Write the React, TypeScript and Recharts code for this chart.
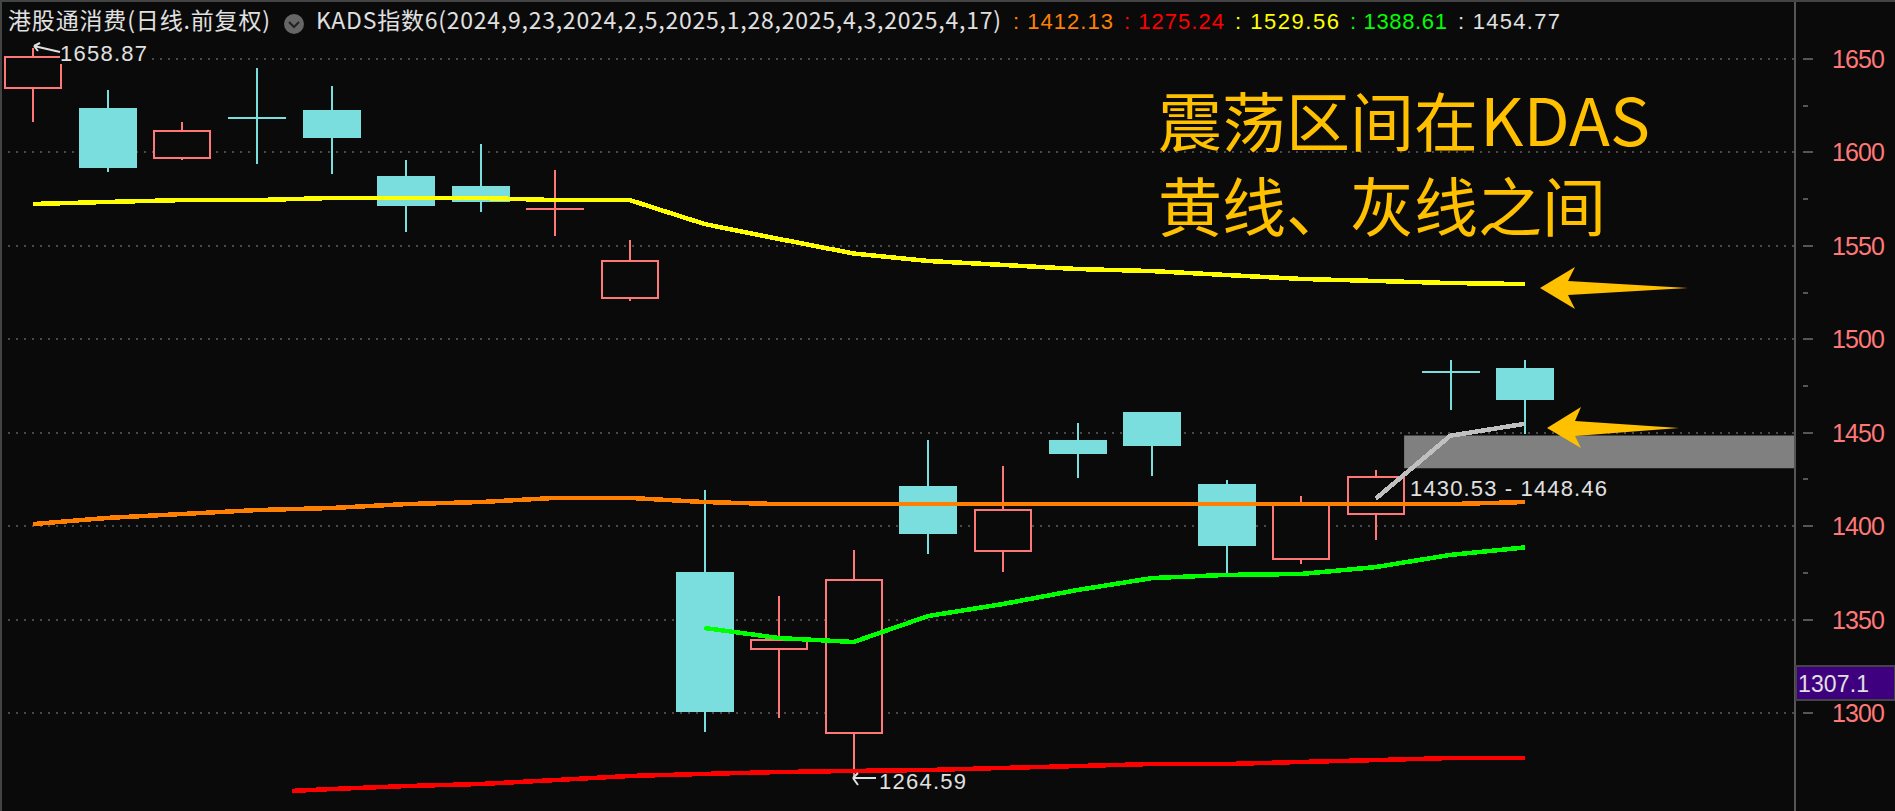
import React from "react";
import {
  ComposedChart,
  Bar,
  Line,
  XAxis,
  YAxis,
  CartesianGrid,
  ReferenceArea,
} from "recharts";

const WIDTH = 1895;
const HEIGHT = 811;
const BODY_WIDTH = 58;
const LINE_WIDTH = 4.5;

// daily candles
const highs = [1656, 1633.4, 1616.3, 1645.2, 1635.5, 1596, 1604.5, 1590.6, 1553.1, 1419.3, 1362.6, 1387.2, 1446.1, 1432.2, 1455.2, 1461, 1424.7, 1416.1, 1430, 1488.9, 1488.9];
const opens = [1634.6, 1623.8, 1597.2, 1618.2, 1622.7, 1587.4, 1582, 1569.6, 1522.3, 1375.5, 1333.9, 1288.9, 1421.5, 1386.3, 1446.1, 1461, 1422.6, 1382.3, 1406.9, 1482.3, 1484.6];
const closes = [1651.2, 1591.7, 1611.6, 1618, 1607.7, 1571.3, 1573.5, 1569.7, 1542, 1300.5, 1338.9, 1371, 1395.8, 1408.5, 1438.6, 1442.9, 1389.4, 1412.4, 1426.5, 1482.1, 1467.5];
const lows = [1616.4, 1589.5, 1596, 1593.8, 1588.7, 1557.4, 1568.1, 1555.3, 1520.5, 1289.8, 1297.3, 1264.7, 1385, 1375.5, 1425.8, 1426.8, 1374.4, 1379.7, 1392.6, 1462.2, 1449.3];

// KDAS lines
const yellowLine = [1572.4, 1573.5, 1574.5, 1574.5, 1575.6, 1575.6, 1575.6, 1574.5, 1574.5, 1561.7, 1553.7, 1545.9, 1541.9, 1539.8, 1537.6, 1536.5, 1534.4, 1532.3, 1531.2, 1530.1, 1529.56];
const orangeLine = [1401.1, 1404.4, 1406.5, 1408.6, 1409.7, 1411.8, 1412.9, 1415.1, 1415.1, 1412.9, 1411.8, 1411.8, 1411.8, 1411.8, 1411.8, 1411.8, 1411.8, 1411.8, 1411.8, 1411.8, 1412.9];
const greenLine = [1345.5, 1340.1, 1338, 1351.9, 1358.3, 1365.8, 1372.2, 1373.9, 1374.4, 1378.1, 1384.6, 1388.61];
const greenDays = [9, 10, 11, 12, 13, 14, 15, 16, 17, 18, 19, 20];
const redLine = [1258.3, 1259.3, 1260.9, 1262, 1264.1, 1266.3, 1267.4, 1268.4, 1269, 1269.5, 1270.6, 1271.6, 1272.7, 1272.7, 1273.8, 1274.8, 1275.9, 1275.9];
const redDays = [3.47, 4, 5, 6, 7, 8, 9, 10, 11, 12, 13, 14, 15, 16, 17, 18, 19, 20];
const greyLine = [1414.7, 1448.4, 1454.77];
const greyDays = [18, 19, 20];

const gridValues = [1300, 1350, 1400, 1450, 1500, 1550, 1600, 1650];
const axisTicks = [1300, 1325, 1350, 1375, 1400, 1425, 1450, 1475, 1500, 1525, 1550, 1575, 1600, 1625, 1650];

const candles = highs.map((high, i) => ({
  x: i,
  range: [lows[i], high],
  high,
  low: lows[i],
  open: opens[i],
  close: closes[i],
}));

const toRows = (days: number[], values: number[]) =>
  days.map((x, i) => ({ x, y: values[i] }));
const allDays = highs.map((_, i) => i);

const BG = "#0a0a0a";
const UP = "#ff7878";
const DOWN = "#7adede";
const GOLD = "#ffc000";
const PALE = "#e0e0e0";

function Candle(props: any) {
  const { x, y, width, height, payload } = props;
  if (height == null) return null;
  const unit = height / (payload.high - payload.low);
  const top = y + (payload.high - Math.max(payload.open, payload.close)) * unit;
  const bottom = y + (payload.high - Math.min(payload.open, payload.close)) * unit;
  const up = payload.close >= payload.open;
  const color = up ? UP : DOWN;
  const mid = Math.round(x + width / 2);
  const left = mid - BODY_WIDTH / 2;
  return (
    <g shapeRendering="crispEdges">
      <rect x={mid - 1} y={y} width={2} height={height} fill={color} />
      {bottom - top < 3 ? (
        <rect x={left} y={Math.round(top) - 1} width={BODY_WIDTH} height={2} fill={color} />
      ) : up ? (
        <rect
          x={left + 1}
          y={Math.round(top)}
          width={BODY_WIDTH - 2}
          height={Math.round(bottom - top)}
          fill={BG}
          stroke={color}
          strokeWidth={2}
        />
      ) : (
        <rect x={left} y={Math.round(top)} width={BODY_WIDTH} height={Math.round(bottom - top)} fill={color} />
      )}
    </g>
  );
}

function PriceTick(props: any) {
  const { x, y, payload } = props;
  const major = payload.value % 50 === 0;
  return (
    <g shapeRendering="crispEdges">
      <rect x={x} y={y - 1} width={major ? 10 : 5} height={2} fill="#555" />
      {major && (
        <text
          x={1832}
          y={y + 9}
          fill={UP}
          fontSize={25}
          fontFamily="Liberation Sans"
          textLength={53}
          lengthAdjust="spacing"
          shapeRendering="auto"
        >
          {payload.value}
        </text>
      )}
    </g>
  );
}

function HeaderText({ x, w, fill, children }: any) {
  return (
    <text x={x} y={29} fill={fill} fontSize={22} fontFamily="Liberation Sans" textLength={w} lengthAdjust="spacing">
      {children}
    </text>
  );
}

function Overlay() {
  return (
    <svg width={WIDTH} height={HEIGHT} style={{ position: "absolute", left: 0, top: 0 }}>
      <text x={8} y={29} fill={PALE} fontSize={23} fontFamily="Noto Sans CJK SC" textLength={262} lengthAdjust="spacing">
        港股通消费(日线.前复权)
      </text>
      <circle cx={294} cy={24} r={10} fill="#666" />
      <path d="M289 22 L294 27 L299 22" fill="none" stroke="#222" strokeWidth={2} />
      <text x={316} y={29} fill={PALE} fontSize={23} fontFamily="Noto Sans CJK SC" textLength={685} lengthAdjust="spacing">
        KADS指数6(2024,9,23,2024,2,5,2025,1,28,2025,4,3,2025,4,17)
      </text>
      <HeaderText x={1013} w={100} fill="#ff8000">: 1412.13</HeaderText>
      <HeaderText x={1124} w={100} fill="#ff0000">: 1275.24</HeaderText>
      <HeaderText x={1235} w={104} fill="#ffff00">: 1529.56</HeaderText>
      <HeaderText x={1350} w={97} fill="#00ff00">: 1388.61</HeaderText>
      <HeaderText x={1458} w={102} fill={PALE}>: 1454.77</HeaderText>

      <rect x={60} y={44} width={90} height={20} fill={BG} />
      <path d="M34 46 L60 52 M34 46 L40 43 M34 46 L38 51" fill="none" stroke={PALE} strokeWidth={2} />
      <text x={60} y={61} fill={PALE} fontSize={22} fontFamily="Liberation Sans" textLength={87} lengthAdjust="spacing">
        1658.87
      </text>

      <path d="M853 778 H876 M853 778 L858 773 M853 778 L858 785" fill="none" stroke={PALE} strokeWidth={2} />
      <text x={879} y={789} fill={PALE} fontSize={22} fontFamily="Liberation Sans" textLength={87} lengthAdjust="spacing">
        1264.59
      </text>

      <text x={1410} y={496} fill={PALE} fontSize={22} fontFamily="Liberation Sans" textLength={197} lengthAdjust="spacing">
        1430.53 - 1448.46
      </text>

      <text x={1158} y={146} fill={GOLD} fontSize={64} fontFamily="Noto Sans CJK SC">
        震荡区间在
      </text>
      <text x={1480} y={146} fill={GOLD} fontSize={66} fontFamily="Noto Sans CJK SC" textLength={170} lengthAdjust="spacingAndGlyphs">
        KDAS
      </text>
      <text x={1158} y={231} fill={GOLD} fontSize={64} fontFamily="Noto Sans CJK SC">
        黄线、灰线之间
      </text>

      <polygon points="1540,288 1575,267 1568,281 1688,288 1568,295 1575,309" fill={GOLD} />
      <polygon points="1547,428 1581,407 1575,421 1679,428 1575,436 1581,448" fill={GOLD} />

      <rect x={1796} y={666} width={99} height={34} fill="#3f007f" stroke="#444" strokeWidth={2} />
      <text x={1798} y={692} fill={PALE} fontSize={23} fontFamily="Liberation Sans" textLength={71} lengthAdjust="spacing">
        1307.1
      </text>
    </svg>
  );
}

function App() {
  return (
    <div style={{ position: "absolute", left: 0, top: 0, width: WIDTH, height: HEIGHT, background: BG, overflow: "hidden" }}>
      <style>{`.recharts-line-curve { shape-rendering: crispEdges; }`}</style>
      <ComposedChart width={WIDTH} height={HEIGHT} data={candles} margin={{ top: 0, right: 0, bottom: 0, left: 0 }}>
        <CartesianGrid
          horizontal
          vertical={false}
          horizontalValues={gridValues}
          stroke="#4a4a4a"
          strokeWidth={2}
          strokeDasharray="2 6"
          shapeRendering="crispEdges"
        />
        <XAxis type="number" dataKey="x" domain={[-0.4424, 23.62]} allowDataOverflow hide />
        <YAxis
          orientation="right"
          width={100}
          type="number"
          domain={[1247.55, 1681.57]}
          allowDataOverflow
          ticks={axisTicks}
          interval={0}
          tick={<PriceTick />}
          tickLine={false}
          axisLine={{ stroke: "#555", strokeWidth: 2 }}
        />
        <ReferenceArea x1={18.38} x2={23.62} y1={1431} y2={1448.46} fill="#808080" fillOpacity={1} stroke="none" />
        <Bar dataKey="range" barSize={58} shape={<Candle />} isAnimationActive={false} />
        <Line data={toRows(allDays, yellowLine)} dataKey="y" stroke="#ffff00" strokeWidth={LINE_WIDTH} dot={false} isAnimationActive={false} />
        <Line data={toRows(allDays, orangeLine)} dataKey="y" stroke="#ff8000" strokeWidth={LINE_WIDTH} dot={false} isAnimationActive={false} />
        <Line data={toRows(greenDays, greenLine)} dataKey="y" stroke="#00ff00" strokeWidth={LINE_WIDTH} dot={false} isAnimationActive={false} />
        <Line data={toRows(redDays, redLine)} dataKey="y" stroke="#ff0000" strokeWidth={LINE_WIDTH} dot={false} isAnimationActive={false} />
        <Line data={toRows(greyDays, greyLine)} dataKey="y" stroke="#c0c0c0" strokeWidth={LINE_WIDTH} dot={false} isAnimationActive={false} />
      </ComposedChart>
      <Overlay />
      <div style={{ position: "absolute", left: 0, top: 0, width: WIDTH, height: 2, background: "#444" }} />
      <div style={{ position: "absolute", left: 0, top: 0, width: 2, height: HEIGHT, background: "#444" }} />
    </div>
  );
}

export default App;
